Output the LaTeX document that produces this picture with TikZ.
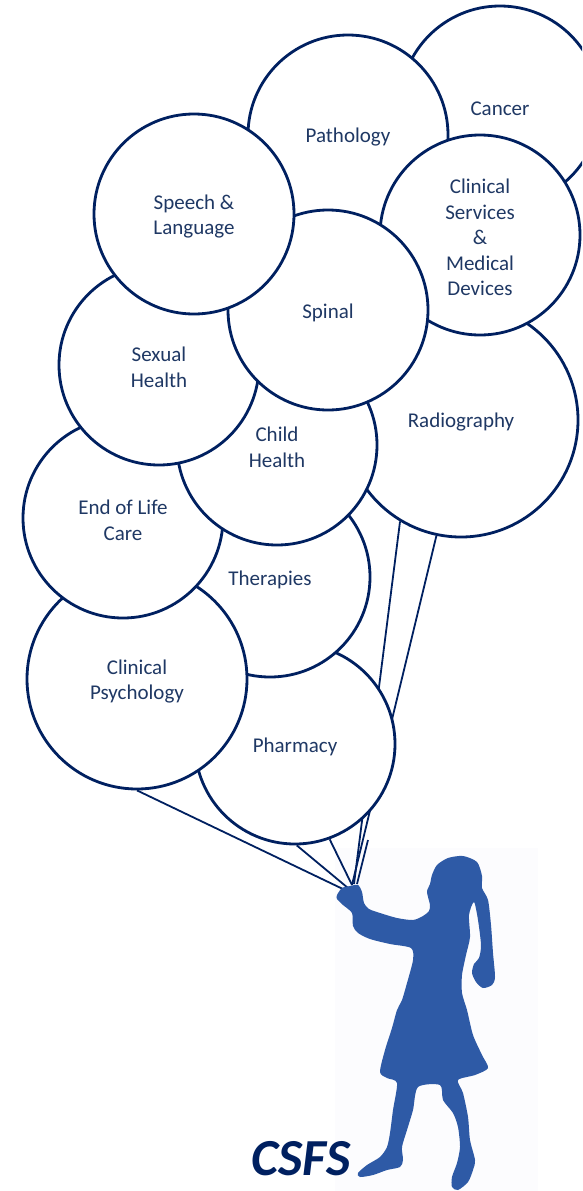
\documentclass[tikz,border=0pt]{standalone}
\usepackage{fontspec}
\setmainfont{Carlito}
\usetikzlibrary{backgrounds}
\definecolor{navy}{RGB}{0,32,96}
\definecolor{labelblue}{RGB}{31,56,100}
\definecolor{girlblue}{RGB}{46,90,166}
\definecolor{paper}{RGB}{252,252,254}
\begin{document}
\begin{tikzpicture}[x=1pt,y=-1pt,
  balloon/.style={circle, draw=navy, line width=2.8pt, fill=white, inner sep=0pt,
    minimum size=200pt},
  bigballoon/.style={balloon, minimum size=220pt},
  hugeballoon/.style={balloon, minimum size=234pt},
  balloontext/.style={align=center, text=labelblue, inner sep=0pt,
    font=\fontsize{21}{25.6}\selectfont, yshift=-2.5pt},
  stringline/.style={draw=navy, line width=1.8pt},
]
\useasboundingbox (0,0) rectangle (582,1191);
\clip (0,0) rectangle (582,1191);

% balloons, from the back of the bunch to the front
\node[balloon]     (cancer)   at (500,106) {};
\node[balloon]     (patho)    at (348,135) {};
\node[hugeballoon] (radio)    at (461,420) {};
\node[balloon]     (clinserv) at (480,235) {};
\node[balloon]     (pharm)    at (295,744) {};
\node[balloon]     (thera)    at (270,577) {};
\node[bigballoon]  (clinpsy)  at (137,679) {};
\node[balloon]     (eol)      at (123,518) {};
\node[balloon]     (child)    at (277,445) {};
\node[balloon]     (sexual)   at (159,365) {};
\node[balloon]     (spinal)   at (328,310) {};
\node[balloon]     (speech)   at (194,214) {};

% balloon labels
\node[balloontext] (cancer-t)   at (cancer.center)   {Cancer};
\node[balloontext] (patho-t)    at (patho.center)    {Pathology};
\node[balloontext] (radio-t)    at (radio.center)    {Radiography};
\node[balloontext] (clinserv-t) at (clinserv.center) {Clinical\\Services\\\&\\Medical\\Devices};
\node[balloontext] (pharm-t)    at (pharm.center)    {Pharmacy};
\node[balloontext] (thera-t)    at (thera.center)    {Therapies};
\node[balloontext] (clinpsy-t)  at (clinpsy.center)  {Clinical\\Psychology};
\node[balloontext] (eol-t)      at (eol.center)      {End of Life\\Care};
\node[balloontext] (child-t)    at (child.center)    {Child\\Health};
\node[balloontext] (sexual-t)   at (sexual.center)   {Sexual\\Health};
\node[balloontext] (spinal-t)   at (spinal.center)   {Spinal};
\node[balloontext] (speech-t)   at (speech.center)   {Speech \&\\Language};

% the hand that holds the strings, and the loose string end
\coordinate (hand)  at (352,885);
\coordinate (loose) at (368,840);

\begin{pgfonlayer}{background}
  \fill[paper] (335,848) rectangle (538,1191);
  \draw[stringline] (clinpsy.south) -- (345,890);
  \draw[stringline] (pharm.-89) -- (348,888);
  \draw[stringline] (pharm.-70) -- (hand);
  \draw[stringline] (radio.-121) -- (354,884);
  \draw[stringline] (radio.-102) -- (hand);
  \draw[stringline] (loose) -- (357,884);
\end{pgfonlayer}

% girl holding the balloons
\fill[girlblue] plot[smooth cycle, tension=0.45] coordinates {
  (337,895) (342,888) (350,886) (358,885) (362,892) (364,903) (369,909)
  (380,913) (397,918) (413,920) (423,916) (429,911)
  (430,905) (428,897) (427,891) (430,884) (432,875) (437,865) (448,858)
  (463,856) (477,862) (482,876) (482,888)
  (488,900) (491,925) (493,953) (495,977) (492,985) (483,988) (476,982)
  (472,973) (474,964) (479,958) (481,945) (478,920) (474,902)
  (469,915) (470,937) (466,955) (462,975) (462,993) (467,1010) (473,1035)
  (482,1055) (488,1068) (475,1075) (458,1080)
  (463,1093) (468,1117) (470,1140) (475,1160) (473,1170) (468,1182)
  (458,1190) (452,1187) (452,1177) (457,1163) (460,1147) (458,1127)
  (453,1113) (443,1100) (440,1085)
  (418,1087) (413,1110) (407,1130) (402,1147) (403,1160) (400,1167)
  (387,1170) (373,1175) (360,1177) (358,1173) (367,1165) (380,1157)
  (387,1147) (390,1133) (393,1110) (397,1083)
  (387,1078) (380,1072) (385,1050) (392,1028) (397,1010) (402,1000)
  (407,983) (413,960) (411,948)
  (390,944) (370,939) (358,933) (353,926) (352,913) (343,905) (337,899)
};

\node[font=\fontsize{52}{60}\selectfont\bfseries\itshape, text=navy,
  anchor=base, inner sep=0pt] (logo) at (301,1175) {CSFS};
\end{tikzpicture}
\end{document}
